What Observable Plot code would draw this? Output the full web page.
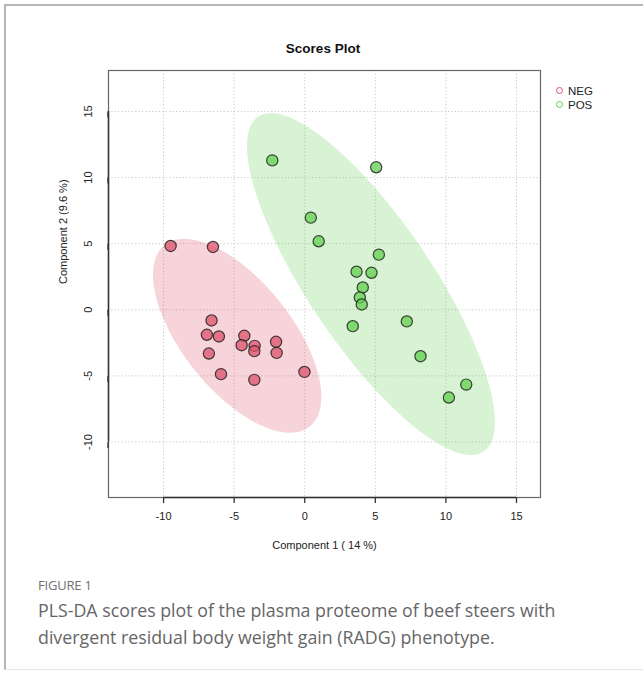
<!DOCTYPE html>
<html>
<head>
<meta charset="utf-8">
<script src="https://cdn.jsdelivr.net/npm/d3@7"></script>
<script src="https://cdn.jsdelivr.net/npm/@observablehq/plot@0.6"></script>
<style>
  html, body { margin: 0; padding: 0; background: #fff; }
  #wrap { position: relative; width: 643px; height: 673px; overflow: hidden; font-family: "Liberation Sans", Arial, sans-serif; }
  #border { position: absolute; left: 4px; top: 4px; width: 700px; height: 666px; border-top: 2px solid #b5b5b5; border-left: 2px solid #b5b5b5; border-bottom: 1px solid #e6e6e6; box-sizing: border-box; }
  #chart { position: absolute; left: 0; top: 0; }
  .title { position: absolute; left: 0; width: 646px; top: 41px; text-align: center; font-weight: bold; font-size: 13.5px; color: #111; }
  .leg { position: absolute; left: 556px; font-size: 11.5px; color: #222; line-height: 14px; }
  .leg span.c { display: inline-block; width: 5px; height: 5px; border-radius: 50%; border: 1.3px solid; margin-right: 5px; vertical-align: 1px; }
  .fig { position: absolute; left: 38px; top: 576px; font-family: "Open Sans", sans-serif; font-size: 13px; color: #707070; letter-spacing: -0.2px; }
  .cap { position: absolute; left: 38px; top: 597px; width: 548px; font-family: "Open Sans", sans-serif; font-size: 17.8px; line-height: 26.5px; color: #666; }
</style>
</head>
<body>
<div id="wrap">
  <div id="border"></div>
  <div id="chart"></div>
  <div class="title">Scores Plot</div>
  <div class="leg" style="top:84px"><span class="c" style="border-color:#DF536B"></span>NEG</div>
  <div class="leg" style="top:98px"><span class="c" style="border-color:#61D04F"></span>POS</div>
  <div class="fig">FIGURE 1</div>
  <div class="cap">PLS-DA scores plot of the plasma proteome of beef steers with divergent residual body weight gain (RADG) phenotype.</div>
</div>
<script>
// Data
const groups = ["NEG", "POS"];
const groupColors = ["#DF536B", "#61D04F"];
const negX = [-9.5, -6.5, -6.6, -6.93, -6.08, -6.79, -5.93, -4.28, -4.47, -3.55, -3.57, -2.03, -1.99, -3.57, -0.02];
const negY = [4.83, 4.75, -0.81, -1.89, -2.02, -3.31, -4.87, -1.97, -2.68, -2.73, -3.13, -2.42, -3.26, -5.3, -4.70];
const posX = [-2.3, 5.06, 0.43, 0.99, 5.25, 3.67, 4.73, 4.11, 3.90, 4.04, 3.40, 7.23, 8.20, 11.44, 10.21];
const posY = [11.3, 10.78, 6.97, 5.18, 4.17, 2.88, 2.80, 1.69, 0.93, 0.40, -1.24, -0.88, -3.51, -5.66, -6.64];
const xTicks = [-10, -5, 0, 5, 10, 15];
const yTicks = [-10, -5, 0, 5, 10, 15];
const xLabel = "Component 1 ( 14 %)";
const yLabel = "Component 2 (9.6 %)";

const points = [
  ...negX.map((x, i) => ({group: "NEG", x, y: negY[i]})),
  ...posX.map((x, i) => ({group: "POS", x, y: posY[i]}))
];

// 95% confidence ellipse from each group's covariance
function ellipse(xs, ys, group) {
  const n = xs.length;
  const mx = d3.mean(xs), my = d3.mean(ys);
  let sxx = 0, syy = 0, sxy = 0;
  for (let i = 0; i < n; i++) {
    const dx = xs[i] - mx, dy = ys[i] - my;
    sxx += dx * dx; syy += dy * dy; sxy += dx * dy;
  }
  sxx /= n - 1; syy /= n - 1; sxy /= n - 1;
  const tr = sxx + syy, det = sxx * syy - sxy * sxy;
  const disc = Math.sqrt(tr * tr / 4 - det);
  const l1 = tr / 2 + disc, l2 = tr / 2 - disc;
  const th = 0.5 * Math.atan2(2 * sxy, sxx - syy);
  const r = Math.sqrt(-2 * Math.log(0.05));
  const out = [];
  for (let k = 0; k < 120; k++) {
    const a = 2 * Math.PI * k / 120;
    const u = r * Math.sqrt(l1) * Math.cos(a), v = r * Math.sqrt(l2) * Math.sin(a);
    out.push({group, x: mx + u * Math.cos(th) - v * Math.sin(th), y: my + u * Math.sin(th) + v * Math.cos(th)});
  }
  return out;
}
const ell = [...ellipse(negX, negY, "NEG"), ...ellipse(posX, posY, "POS")];

const xDomain = [-13.9, 16.7];
const yDomain = [-14.2, 18.1];
const fmt = d => String(d);

const chart = Plot.plot({
  width: 643,
  height: 570,
  marginLeft: 108,
  marginRight: 103,
  marginTop: 70,
  marginBottom: 73,
  style: {fontFamily: "Liberation Sans, Arial, sans-serif", fontSize: "11px", color: "#222", background: "transparent"},
  x: {domain: xDomain, ticks: xTicks},
  y: {domain: yDomain, ticks: yTicks},
  color: {domain: groups, range: groupColors},
  marks: [
    Plot.gridX(xTicks, {stroke: "#c8c8c8", strokeOpacity: 1, strokeDasharray: "1.2,2.2"}),
    Plot.gridY(yTicks, {stroke: "#c8c8c8", strokeOpacity: 1, strokeDasharray: "1.2,2.2"}),
    Plot.line(ell, {x: "x", y: "y", z: "group", fill: "group", fillOpacity: 0.25, stroke: "none", curve: "linear-closed"}),
    Plot.dot(points, {x: "x", y: "y", fill: "group", fillOpacity: 0.75, stroke: "#222", strokeOpacity: 0.85, strokeWidth: 1.2, r: 5.6}),
    Plot.frame({stroke: "#666", strokeWidth: 1.2}),
    Plot.ruleY([yDomain[0]], {x1: xTicks[0], x2: xTicks[xTicks.length - 1], stroke: "#333", strokeWidth: 1.5}),
    Plot.ruleX([xDomain[0]], {y1: yTicks[0], y2: yTicks[yTicks.length - 1], stroke: "#333", strokeWidth: 1.5}),
    Plot.axisX(xTicks, {tickSize: 6, tickPadding: 9, fontSize: 11, label: null, tickFormat: fmt, stroke: "#333", strokeWidth: 1.3}),
    Plot.axisY(yTicks, {tickSize: 6, tickPadding: 14, fontSize: 11, label: null, tickFormat: fmt, rotate: -90, textAnchor: "middle", stroke: "#333", strokeWidth: 1.3}),
    Plot.text([xLabel], {text: d => d, frameAnchor: "bottom", dy: 51, fontSize: 11}),
    Plot.text([yLabel], {text: d => d, frameAnchor: "left", dx: -45, rotate: -90, fontSize: 11})
  ]
});
document.getElementById("chart").appendChild(chart);
</script>
</body>
</html>
